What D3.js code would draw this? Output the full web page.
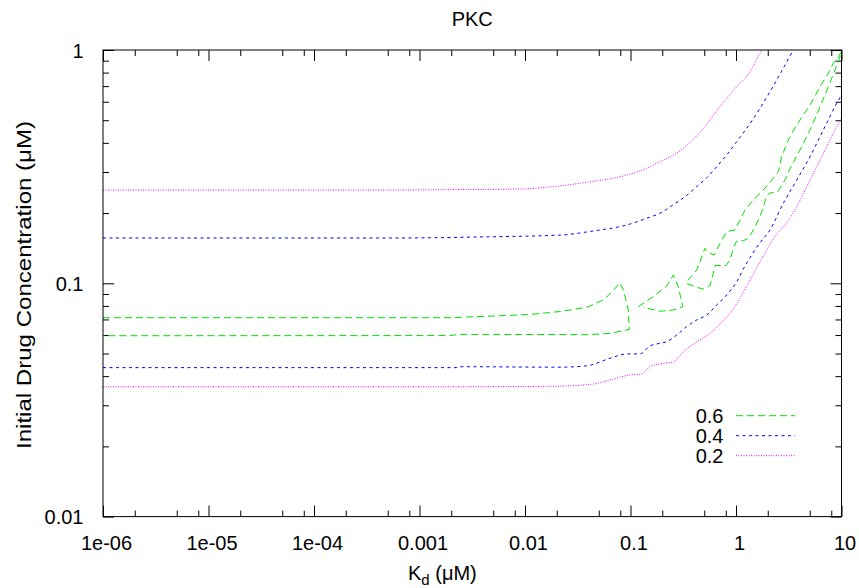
<!DOCTYPE html>
<html>
<head>
<meta charset="utf-8">
<script src="https://cdn.jsdelivr.net/npm/d3@7"></script>
<style>
  html, body { margin: 0; padding: 0; background: #fff; }
  svg { display: block; }
  text { font-family: "Liberation Sans", Arial, Helvetica, sans-serif; fill: #000; }
</style>
</head>
<body>
<svg id="chart" width="859" height="588"></svg>
<script>
// ---------------- DATA (Kd in µM, concentration in µM) ----------------
const title = "PKC";
const xTickValues = [1e-6, 1e-5, 1e-4, 1e-3, 1e-2, 1e-1, 1, 10];
const xTickLabels = ["1e-06", "1e-05", "1e-04", "0.001", "0.01", "0.1", "1", "10"];
const yTickValues = [0.01, 0.1, 1];
const yTickLabels = ["0.01", "0.1", "1"];
const legendLabels = ["0.6", "0.4", "0.2"];

// contour level 0.6 (three pieces)
const level06_pieceA = [
  [1e-6, 0.0712], [1.95e-3, 0.0712], [5.79e-3, 0.0726], [0.01115, 0.0735], [0.0215, 0.0757],
  [0.0385, 0.0789], [0.0552, 0.0848], [0.0668, 0.0918], [0.0795, 0.1006], [0.0855, 0.0936],
  [0.0906, 0.0848], [0.0953, 0.0769], [0.0975, 0.0635], [0.0640, 0.0610], [0.0385, 0.0602],
  [0.0215, 0.0603], [2.42e-3, 0.0604], [1.95e-3, 0.0597], [1e-6, 0.0596]
];
const level06_pieceB = [
  [0.1186, 0.0794], [0.1644, 0.0876], [0.2204, 0.0974], [0.2546, 0.1085], [0.270, 0.1023],
  [0.2839, 0.0967], [0.3126, 0.0794], [0.2546, 0.0769], [0.190, 0.0759], [0.1322, 0.0789]
];
const level06_pieceC = [
  [10, 0.983], [9.33, 0.936], [8.36, 0.877], [7.50, 0.795], [6.26, 0.696], [5.03, 0.581],
  [3.76, 0.477], [3.13, 0.411], [2.71, 0.349], [2.52, 0.301], [2.18, 0.277], [1.815, 0.251],
  [1.459, 0.2275], [1.217, 0.206], [1.091, 0.1867], [0.978, 0.1692], [0.822, 0.1667],
  [0.705, 0.1484], [0.619, 0.1322], [0.567, 0.1344], [0.508, 0.1413], [0.456, 0.1238],
  [0.424, 0.114], [0.341, 0.1013],
  [0.341, 0.0998], [0.424, 0.0961], [0.490, 0.0945], [0.567, 0.0979], [0.609, 0.1104],
  [0.632, 0.1192], [0.804, 0.1192], [0.877, 0.1259], [0.943, 0.1413], [1.015, 0.1518],
  [1.173, 0.1522], [1.308, 0.156], [1.459, 0.1692], [1.627, 0.1867], [1.752, 0.202],
  [1.954, 0.2367], [2.10, 0.2438], [2.50, 0.2474], [2.73, 0.2638], [2.98, 0.2827],
  [3.25, 0.3106], [4.04, 0.3727], [5.03, 0.4541], [6.26, 0.5714], [7.50, 0.696],
  [8.68, 0.821], [9.68, 0.936], [10, 0.974]
];

// contour level 0.4
const level04_upper = [
  [1e-6, 0.1564], [6.53e-4, 0.1564], [3.74e-3, 0.158], [0.0215, 0.161], [0.0444, 0.1676],
  [0.0920, 0.1778], [0.1425, 0.190], [0.190, 0.1996], [0.2546, 0.2173], [0.328, 0.235],
  [0.424, 0.2596], [0.528, 0.2836], [0.656, 0.316], [0.816, 0.3548], [1.015, 0.4045],
  [1.263, 0.4619], [1.689, 0.5625], [2.43, 0.7437], [3.49, 1.0]
];
const level04_lower = [
  [1e-6, 0.0435], [2.22e-3, 0.0435], [2.42e-3, 0.0439], [0.0215, 0.0437], [0.0385, 0.0443],
  [0.0640, 0.0477], [0.0920, 0.0498], [0.123, 0.0498], [0.153, 0.0539], [0.190, 0.0553],
  [0.2204, 0.0562], [0.274, 0.0600], [0.341, 0.0652], [0.424, 0.0696], [0.528, 0.0731],
  [0.656, 0.0807], [0.816, 0.0891], [1.015, 0.1016], [1.217, 0.1187], [1.409, 0.1322],
  [1.689, 0.1493], [2.10, 0.1692], [2.81, 0.2203], [3.76, 0.277], [5.03, 0.349],
  [6.72, 0.4541], [9.01, 0.591], [10, 0.641]
];

// contour level 0.2
const level02_upper = [
  [1e-6, 0.251], [2.19e-4, 0.251], [1.95e-3, 0.252], [8.97e-3, 0.2536], [0.0185, 0.2596],
  [0.0385, 0.271], [0.0795, 0.2863], [0.123, 0.303], [0.190, 0.332], [0.294, 0.369],
  [0.456, 0.444], [0.705, 0.572], [1.015, 0.696], [1.357, 0.807], [1.689, 0.968], [1.763, 1.0]
];
const level02_lower = [
  [1e-6, 0.0360], [6.53e-4, 0.0360], [0.01925, 0.0362], [0.0444, 0.0370], [0.0640, 0.0385],
  [0.0989, 0.0405], [0.1277, 0.0409], [0.153, 0.0439], [0.2046, 0.0454], [0.2546, 0.0461],
  [0.3165, 0.0509], [0.424, 0.0562], [0.567, 0.0610], [0.758, 0.0693], [0.943, 0.0776],
  [1.133, 0.0891], [1.357, 0.1033], [1.627, 0.1198], [1.954, 0.1389], [2.34, 0.1584],
  [2.91, 0.1778], [3.76, 0.2130], [4.68, 0.2596], [5.82, 0.316], [7.24, 0.385],
  [9.01, 0.469], [10, 0.511]
];

// ---------------- LAYOUT / STYLE ----------------
const W = 859, H = 588;
const margin = { left: 103, top: 50, right: 17.5, bottom: 71.4 };
const plotW = W - margin.left - margin.right;
const plotH = H - margin.top - margin.bottom;

const styles = {
  "0.6": { color: "#00e000", dash: "7,4" },
  "0.4": { color: "#0000ff", dash: "3,3.5" },
  "0.2": { color: "#ff00ff", dash: "1,1.5" }
};

const svg = d3.select("#chart");
const x = d3.scaleLog().domain([1e-6, 10]).range([margin.left, margin.left + plotW]);
const y = d3.scaleLog().domain([0.01, 1]).range([margin.top + plotH, margin.top]);

// minor ticks
const xMinor = [];
for (let e = -6; e < 1; e++) [2, 5, 8].forEach(m => xMinor.push(m * Math.pow(10, e)));
const yMinor = [];
for (let e = -2; e < 0; e++) for (let m = 2; m <= 9; m++) yMinor.push(m * Math.pow(10, e));

const fmtX = d => xTickLabels[xTickValues.indexOf(d)];
const fmtY = d => yTickLabels[yTickValues.indexOf(d)];

function addAxis(axisGen, transform, labels) {
  const g = svg.append("g").attr("transform", transform).call(axisGen);
  g.select(".domain").remove();
  g.selectAll("line").attr("stroke", "#000").attr("stroke-width", 1);
  if (!labels) g.selectAll("text").remove();
  return g;
}

// bottom
const gb = addAxis(d3.axisBottom(x).tickValues(xTickValues).tickFormat(fmtX).tickSizeInner(-11).tickSizeOuter(0),
  `translate(0,${margin.top + plotH})`, true);
gb.selectAll("text").attr("y", 33.5).attr("dy", 0).attr("dx", 3).style("font-size", "20px");
addAxis(d3.axisBottom(x).tickValues(xMinor).tickFormat("").tickSizeInner(-6).tickSizeOuter(0),
  `translate(0,${margin.top + plotH})`, false);
// top
addAxis(d3.axisTop(x).tickValues(xTickValues).tickFormat("").tickSizeInner(-11).tickSizeOuter(0),
  `translate(0,${margin.top})`, false);
addAxis(d3.axisTop(x).tickValues(xMinor).tickFormat("").tickSizeInner(-6).tickSizeOuter(0),
  `translate(0,${margin.top})`, false);
// left
const gl = addAxis(d3.axisLeft(y).tickValues(yTickValues).tickFormat(fmtY).tickSizeInner(-11).tickSizeOuter(0),
  `translate(${margin.left},0)`, true);
gl.selectAll("text").attr("x", -19.5).attr("dy", "0.35em").style("font-size", "20px");
addAxis(d3.axisLeft(y).tickValues(yMinor).tickFormat("").tickSizeInner(-6).tickSizeOuter(0),
  `translate(${margin.left},0)`, false);
// right
addAxis(d3.axisRight(y).tickValues(yTickValues).tickFormat("").tickSizeInner(-11).tickSizeOuter(0),
  `translate(${margin.left + plotW},0)`, false);
addAxis(d3.axisRight(y).tickValues(yMinor).tickFormat("").tickSizeInner(-6).tickSizeOuter(0),
  `translate(${margin.left + plotW},0)`, false);

// clip
svg.append("clipPath").attr("id", "clip").append("rect")
  .attr("x", margin.left).attr("y", margin.top).attr("width", plotW).attr("height", plotH);

const linear = d3.line().x(d => x(d[0])).y(d => y(d[1]));
const smooth = d3.line().curve(d3.curveMonotoneX).x(d => x(d[0])).y(d => y(d[1]));
const curves = [
  { level: "0.6", data: level06_pieceA, gen: linear }, { level: "0.6", data: level06_pieceB, gen: linear },
  { level: "0.6", data: level06_pieceC, gen: linear },
  { level: "0.4", data: level04_upper, gen: smooth }, { level: "0.4", data: level04_lower, gen: smooth },
  { level: "0.2", data: level02_upper, gen: smooth }, { level: "0.2", data: level02_lower, gen: smooth }
];
svg.append("g").attr("clip-path", "url(#clip)")
  .selectAll("path").data(curves).join("path")
  .attr("d", c => c.gen(c.data))
  .attr("fill", "none")
  .attr("stroke", c => styles[c.level].color)
  .attr("stroke-width", 1)
  .attr("stroke-dasharray", c => styles[c.level].dash);

// frame
svg.append("rect").attr("x", margin.left).attr("y", margin.top)
  .attr("width", plotW).attr("height", plotH)
  .attr("fill", "none").attr("stroke", "#000").attr("stroke-width", 1);

// legend
const lg = svg.append("g");
legendLabels.forEach((lab, i) => {
  const yy = 415.7 + i * 20;
  lg.append("text").attr("x", 723.5).attr("y", yy).attr("dy", "0.35em")
    .attr("text-anchor", "end").style("font-size", "20px").text(lab);
  lg.append("line").attr("x1", 736).attr("x2", 795).attr("y1", yy).attr("y2", yy)
    .attr("stroke", styles[lab].color).attr("stroke-width", 1)
    .attr("stroke-dasharray", styles[lab].dash);
});

// title
svg.append("text").attr("x", margin.left + plotW / 2).attr("y", 26)
  .attr("text-anchor", "middle").style("font-size", "20px").text(title);

// x label
const xl = svg.append("text").attr("x", 408).attr("y", 580)
  .attr("text-anchor", "start").style("font-size", "20px");
xl.append("tspan").text("K");
xl.append("tspan").attr("dy", 5).style("font-size", "15px").text("d");
xl.append("tspan").attr("dy", -5).text(" (μM)");

// y label
svg.append("text").attr("transform", `translate(31,${285}) rotate(-90)`)
  .attr("text-anchor", "middle").style("font-size", "21px")
  .attr("textLength", 328).attr("lengthAdjust", "spacingAndGlyphs")
  .text("Initial Drug Concentration (μM)");
</script>
</body>
</html>
